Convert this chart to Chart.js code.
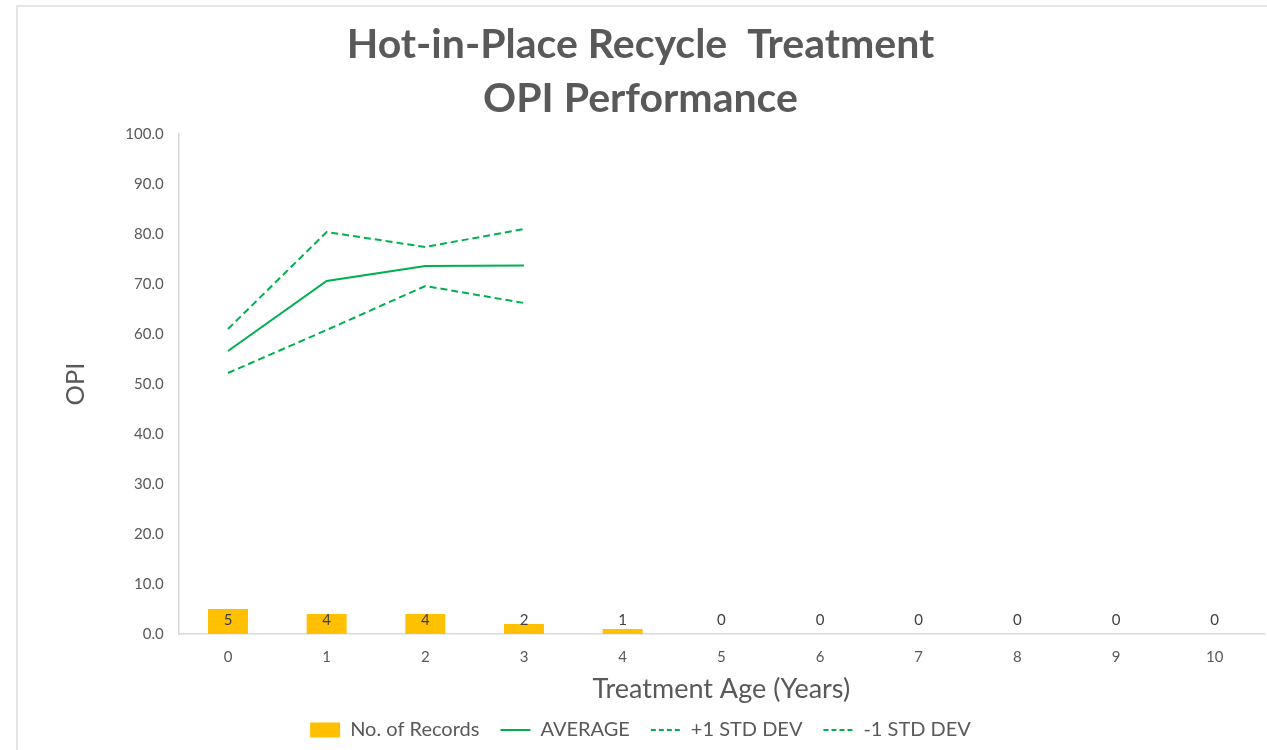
<!DOCTYPE html>
<html>
<head>
<meta charset="utf-8">
<script src="https://cdn.jsdelivr.net/npm/chart.js@4/dist/chart.umd.min.js"></script>
<style>
  html, body { margin: 0; padding: 0; background: #ffffff; width: 1267px; height: 750px; overflow: hidden; }
  #frame { position: absolute; left: 16px; top: 5px; width: 1260px; height: 760px; border: 2px solid #e6e6e6; box-sizing: border-box; }
  #wrap { position: absolute; left: 17px; top: 6px; width: 1250px; height: 744px; }
</style>
</head>
<body>
<div id="frame"></div>
<div id="wrap"><canvas id="c" width="1250" height="744"></canvas></div>
<script>
// ---- data ----
const categories = ['0','1','2','3','4','5','6','7','8','9','10'];
const records    = [5, 4, 4, 2, 1, 0, 0, 0, 0, 0, 0];
const average    = [56.6, 70.6, 73.6, 73.7, null, null, null, null, null, null, null];
const plusStd    = [61.0, 80.4, 77.4, 81.0, null, null, null, null, null, null, null];
const minusStd   = [52.2, 60.8, 69.6, 66.2, null, null, null, null, null, null, null];
const titleLines = ['Hot-in-Place Recycle  Treatment', 'OPI Performance'];

const GREEN = '#00b050';
const GOLD = '#ffc000';
const TXT = '#595959';
const FONT = 'Lato';

const barLabels = {
  id: 'barLabels',
  afterDatasetsDraw(chart) {
    const meta = chart.getDatasetMeta(0);
    const y0 = chart.scales.y.getPixelForValue(0);
    const ctx = chart.ctx;
    ctx.save();
    ctx.font = '15px ' + FONT;
    ctx.fillStyle = '#404040';
    ctx.textAlign = 'center';
    ctx.textBaseline = 'middle';
    meta.data.forEach((bar, i) => {
      ctx.fillText(String(records[i]), bar.x, y0 - 14);
    });
    ctx.restore();
  }
};

new Chart(document.getElementById('c'), {
  type: 'bar',
  data: {
    labels: categories,
    datasets: [
      { type: 'bar', label: 'No. of Records', data: records, backgroundColor: GOLD, borderWidth: 0,
        categoryPercentage: 1.0, barPercentage: 0.405 },
      { type: 'line', label: 'AVERAGE', data: average, borderColor: GREEN, backgroundColor: GREEN,
        borderWidth: 2, pointRadius: 0, tension: 0 },
      { type: 'line', label: '+1 STD DEV', data: plusStd, borderColor: GREEN, backgroundColor: GREEN,
        borderWidth: 2, borderDash: [7, 4], pointRadius: 0, tension: 0 },
      { type: 'line', label: '-1 STD DEV', data: minusStd, borderColor: GREEN, backgroundColor: GREEN,
        borderWidth: 2, borderDash: [7, 4], pointRadius: 0, tension: 0 }
    ]
  },
  options: {
    responsive: false,
    animation: false,
    layout: { padding: { left: 0, right: 3, top: 0, bottom: 0 } },
    plugins: {
      tooltip: { enabled: false },
      title: {
        display: true,
        text: titleLines,
        color: TXT,
        font: { family: FONT, size: 41, weight: 'bold', lineHeight: 54 / 41 },
        padding: { top: 12, bottom: 8 }
      },
      legend: {
        display: true,
        position: 'bottom',
        maxHeight: 51,
        labels: {
          color: TXT,
          font: { family: FONT, size: 20 },
          usePointStyle: true,
          pointStyleWidth: 30,
          boxHeight: 15,
          padding: 21,
          generateLabels(chart) {
            const items = Chart.defaults.plugins.legend.labels.generateLabels(chart);
            items.forEach((it) => {
              const i = it.datasetIndex;
              if (i === 0) { it.pointStyle = 'rect'; it.lineWidth = 0; it.fillStyle = GOLD; it.strokeStyle = GOLD; }
              else { it.pointStyle = 'line'; it.lineWidth = 2; it.strokeStyle = GREEN; it.lineDash = i === 1 ? [] : [5, 3]; }
            });
            return items;
          }
        }
      }
    },
    scales: {
      x: {
        offset: true,
        grid: { display: false, drawTicks: false },
        border: { display: true, color: '#d9d9d9', width: 1.5 },
        ticks: { color: TXT, font: { family: FONT, size: 15 }, padding: 14 },
        title: { display: true, text: 'Treatment Age (Years)', color: TXT,
                 font: { family: FONT, size: 27, lineHeight: 0.75 }, padding: { top: 0, bottom: 0 } },
        afterFit(scale) { scale.height = 65; }
      },
      y: {
        min: 0, max: 100,
        grid: { display: false, drawTicks: false },
        border: { display: true, color: '#d9d9d9', width: 1.5 },
        ticks: { stepSize: 10, color: TXT, font: { family: FONT, size: 15 }, padding: 15,
                 callback: v => Number(v).toFixed(1) },
        title: { display: true, text: 'OPI', color: TXT,
                 font: { family: FONT, size: 25.5 }, padding: { top: 43, bottom: 0 } },
        afterFit(scale) { scale.width = 161.65; }
      }
    }
  },
  plugins: [barLabels]
});
</script>
</body>
</html>
